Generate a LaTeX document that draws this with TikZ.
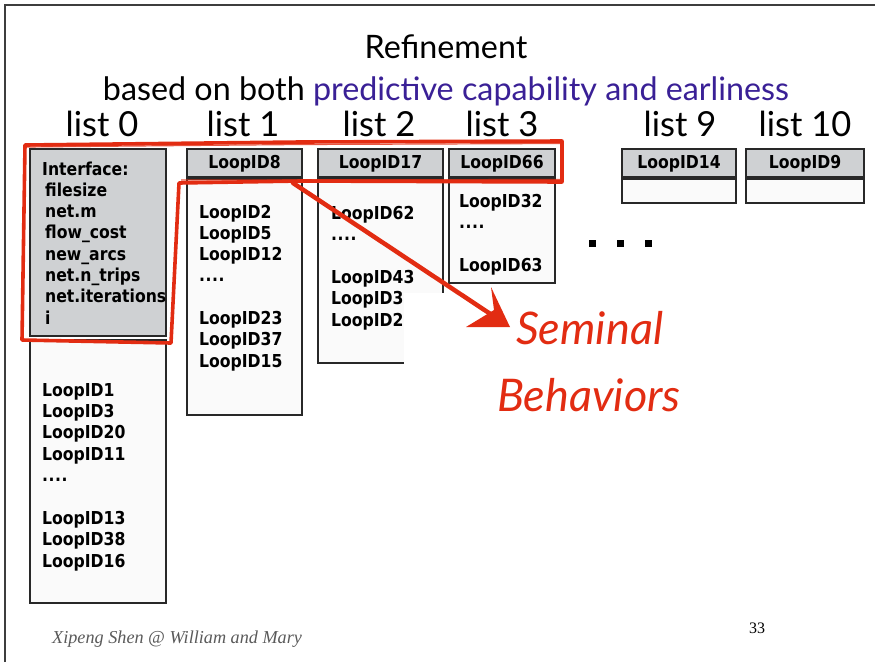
\documentclass[tikz,border=0pt]{standalone}
\usepackage{fontspec}
\setmainfont{Lato}
\newfontfamily\boxfont{DejaVu Sans}[FakeStretch=0.88]
\newfontfamily\footfont{Liberation Serif}
\usetikzlibrary{calc}

\definecolor{hdrgray}{RGB}{207,209,211}
\definecolor{bodywhite}{RGB}{250,250,250}
\definecolor{edge}{RGB}{40,40,40}
\definecolor{inkred}{RGB}{226,44,18}
\definecolor{accent}{RGB}{58,32,150}
\definecolor{footgray}{RGB}{90,90,90}

\newcommand\elided{.\kern0.5pt.\kern0.5pt.\kern0.5pt.}

\tikzset{
  hdrcell/.style={draw=edge, line width=1.6pt, fill=hdrgray},
  bodycell/.style={draw=edge, line width=1.6pt, fill=bodywhite},
  item/.style={anchor=base west, inner sep=0pt, font=\boxfont\bfseries\fontsize{17.8}{20}\selectfont},
  hdritem/.style={anchor=base, inner sep=0pt, font=\boxfont\bfseries\fontsize{17.8}{20}\selectfont},
  listlabel/.style={anchor=base, inner sep=0pt, font=\fontsize{34.5}{38}\selectfont},
  titletext/.style={anchor=base, inner sep=0pt, font=\fontsize{32.3}{35}\selectfont},
  ink/.style={draw=inkred, line width=3.6pt, line join=round, line cap=round},
  scrawl/.style={anchor=base west, inner sep=0pt, text=inkred, font=\itshape\fontsize{45}{48}\selectfont},
}

\begin{document}
\begin{tikzpicture}[x=1pt, y=-1pt]
\useasboundingbox (0,0) rectangle (875,662);

% slide frame
\draw[edge!90, line width=1.6pt] (5,662) -- (5,5) -- (875,5);

% titles
\node[titletext] (title) at (446,58) {Refinement};
\node[titletext] (subtitle) at (446,100) {based on both \textcolor{accent}{predictive capability and earliness}};

% list labels
\node[listlabel] (lab0) at (102,136) {list 0};
\node[listlabel] (lab1) at (243,136) {list 1};
\node[listlabel] (lab2) at (379,136) {list 2};
\node[listlabel] (lab3) at (502,136) {list 3};
\node[listlabel] (lab9) at (680,136) {list 9};
\node[listlabel] (lab10) at (805,136) {list 10};

% list 0
\draw[hdrcell] (30,149) rectangle (166,336);
\draw[bodycell] (30,340) rectangle (166,603);
\foreach \t [count=\k from 0] in {Interface:, {\,filesize}, {\,net.m}, {\,flow\_cost}, {\,new\_arcs}, {\,net.n\_trips}, {\,net.iterations}, {\,i}}
  \node[item] (iface\k) at (42,175+21.3*\k) {\t};
\foreach \t [count=\k from 0] in {LoopID1, LoopID3, LoopID20, LoopID11, {\elided}, {}, LoopID13, LoopID38, LoopID16}
  \node[item] (zero\k) at (42,396+21.4*\k) {\t};

% list 1
\draw[hdrcell] (187,149) rectangle (302,177);
\draw[bodycell] (187,179) rectangle (302,415);
\node[hdritem] (h1) at (244.5,168) {LoopID8};
\foreach \t [count=\k from 0] in {LoopID2, LoopID5, LoopID12, {\elided}, {}, LoopID23, LoopID37, LoopID15}
  \node[item] (one\k) at (199,218+21.3*\k) {\t};

% list 2
\draw[hdrcell] (318,149) rectangle (443,177);
\draw[bodycell] (318,179) rectangle (443,363);
\node[hdritem] (h2) at (380.5,168) {LoopID17};
\foreach \t [count=\k from 0] in {LoopID62, {\elided}, {}, LoopID43, LoopID3, LoopID2}
  \node[item] (two\k) at (331,219+21.4*\k) {\t};

% list 3
\draw[hdrcell] (449,149) rectangle (555,177);
\draw[bodycell] (449,179) rectangle (555,283);
\node[hdritem] (h3) at (502,168) {LoopID66};
\foreach \t [count=\k from 0] in {LoopID32, {\elided}, {}, LoopID63}
  \node[item] (three\k) at (459,207+21.5*\k) {\t};

% list 9 and list 10
\draw[hdrcell] (622,149) rectangle (736,177);
\draw[bodycell] (622,179) rectangle (736,203);
\node[hdritem] (h9) at (679,168) {LoopID14};
\draw[hdrcell] (746,149) rectangle (864,177);
\draw[bodycell] (746,179) rectangle (864,203);
\node[hdritem] (h10) at (805,168) {LoopID9};

% ellipsis between list 3 and list 9
\foreach \x in {592,620,648}
  \fill[black] (\x-3.5,239.5) rectangle (\x+3.5,246.5);

% blank patch where the note is written
\fill[white] (403.5,293) rectangle (470,380);

% hand-drawn outline around the first entries
\draw[ink] (25,145) -- (300,142) -- (562,141) -- (562,182) -- (300,181)
  -- (179,183) -- (171,343) -- (22,340) -- cycle;
\draw[inkred, line width=1.2pt, opacity=0.8] (24,147) -- (300,144.5) -- (560,143.5);
\draw[inkred, line width=1.2pt, opacity=0.8] (181,180) -- (560,179.5);

% note
\node[scrawl] (seminal) at (516,344) {Seminal};
\node[scrawl] (behaviors) at (497,411) {Behaviors};
\coordinate (arrowstart) at (293,183);
\coordinate (arrowtip) at (510,327);
\draw[ink, line width=4.5pt] (arrowstart) -- ($(arrowtip)+(-12,-8)$);
\fill[inkred] (arrowtip) -- (491,287) -- (494,310) -- (466,327) -- cycle;

% footer
\node[anchor=base west, inner sep=0pt, text=footgray, font=\footfont\itshape\fontsize{18.2}{21}\selectfont] (author) at (52,643) {Xipeng Shen @ William and Mary};
\node[anchor=base, inner sep=0pt, font=\footfont\fontsize{16}{19}\selectfont] (page) at (757,633) {33};
\end{tikzpicture}
\end{document}
